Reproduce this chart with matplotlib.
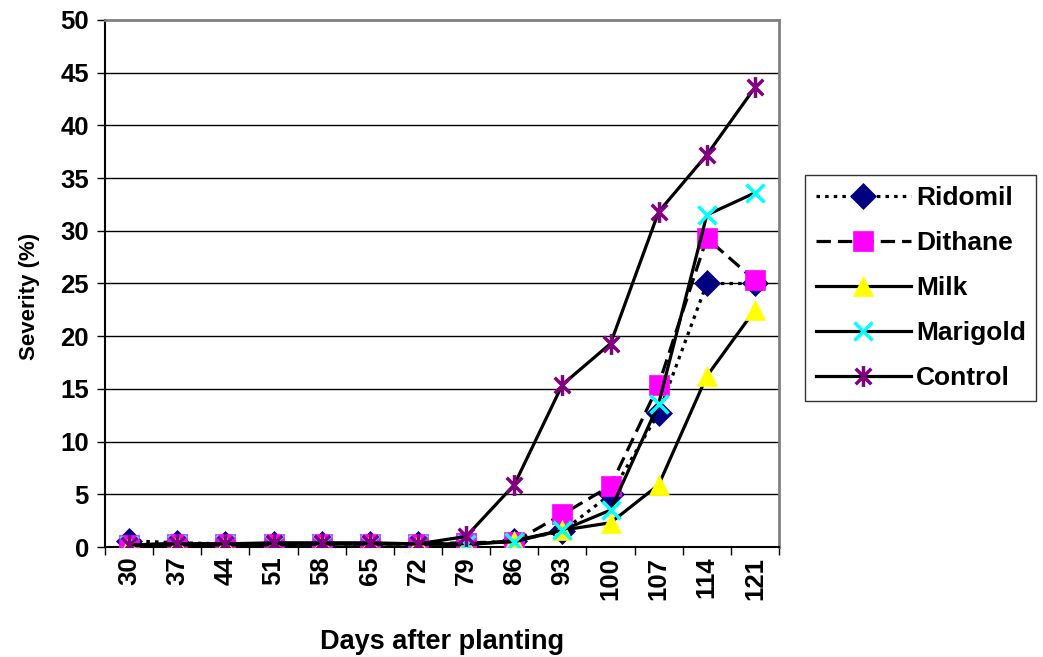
import matplotlib.pyplot as plt
import numpy as np
from matplotlib.path import Path

plt.rcParams['font.family'] = ['Liberation Sans', 'DejaVu Sans']
plt.rcParams['font.weight'] = 'bold'

days = [30, 37, 44, 51, 58, 65, 72, 79, 86, 93, 100, 107, 114, 121]
ridomil = [0.6, 0.4, 0.3, 0.3, 0.3, 0.3, 0.3, 0.3, 0.6, 1.5, 5.0, 12.7, 25.0, 25.0]
dithane = [0.2, 0.3, 0.3, 0.3, 0.3, 0.3, 0.3, 0.4, 0.5, 3.1, 5.8, 15.4, 29.3, 25.3]
milk = [0.1, 0.2, 0.2, 0.2, 0.3, 0.3, 0.3, 0.2, 0.6, 1.6, 2.3, 5.9, 16.2, 22.5]
marigold = [0.2, 0.3, 0.3, 0.3, 0.3, 0.3, 0.3, 0.3, 0.5, 1.6, 3.5, 13.6, 31.5, 33.6]
control = [0.2, 0.3, 0.3, 0.4, 0.4, 0.4, 0.3, 1.0, 5.9, 15.4, 19.3, 31.8, 37.2, 43.6]

# star marker: an X with a vertical stroke through it
d = 0.75
star = Path([(-d, -d), (d, d), (-d, d), (d, -d), (0, -1), (0, 1)],
            [Path.MOVETO, Path.LINETO, Path.MOVETO, Path.LINETO,
             Path.MOVETO, Path.LINETO])

fig = plt.figure(figsize=(10.43, 6.57), dpi=100)
ax = fig.add_axes([0.1007, 0.1674, 0.6462, 0.8022])

x = np.arange(len(days))

# name, values, linestyle, marker, colour, marker size
series = [
    ('Ridomil', ridomil, (0, (1.1, 1.6)), 'D', '#000080', 13),
    ('Dithane', dithane, (0, (4.5, 2.2)), 's', '#FF00FF', 14),
    ('Milk', milk, '-', '^', '#FFFF00', 15),
    ('Marigold', marigold, '-', 'x', '#00FFFF', 13),
    ('Control', control, '-', star, '#800080', 15),
]

for name, vals, ls, mk, col, ms in series:
    thin = isinstance(mk, str) and mk in ('D', 's', '^')
    ax.plot(x, vals, color='black', linestyle=ls, linewidth=2.3,
            marker=mk, markersize=ms, markerfacecolor=col,
            markeredgecolor=col, markeredgewidth=0.5 if thin else 2.5,
            label=name, zorder=3)

ax.set_xlim(-0.5, len(days) - 0.5)
ax.set_ylim(0, 50)
ax.set_yticks(np.arange(0, 51, 5))
ax.set_xticks(x)
ax.set_xticklabels([str(d) for d in days], rotation=90)
ax.set_xticks(np.arange(-0.5, len(days), 1), minor=True)
ax.tick_params(axis='x', which='major', length=0, pad=7, labelsize=18.5)
ax.tick_params(axis='x', which='minor', length=5.5, width=1, direction='out')
ax.tick_params(axis='y', length=5.5, width=1, direction='out', pad=6, labelsize=18.5)

for y in np.arange(5, 50, 5):
    ax.axhline(y, color='black', linewidth=1, zorder=1)

for side in ('top', 'right'):
    ax.spines[side].set_color('#808080')
    ax.spines[side].set_linewidth(2)
for side in ('left', 'bottom'):
    ax.spines[side].set_color('black')
    ax.spines[side].set_linewidth(1.5)

ax.set_ylabel('Severity (%)', fontsize=16, fontweight='bold')
ax.yaxis.set_label_coords(-0.096, 0.476)
ax.set_xlabel('Days after planting', fontsize=19.5, fontweight='bold', labelpad=21)

leg = fig.legend(loc='upper left', bbox_to_anchor=(0.772, 0.733),
                 fontsize=19, frameon=True, fancybox=False,
                 edgecolor='black', handlelength=3.6, handletextpad=0.2,
                 labelspacing=0.8, borderpad=0.4, borderaxespad=0)
leg.get_frame().set_linewidth(1)

fig.savefig('out.png', dpi=100)
plt.close()
